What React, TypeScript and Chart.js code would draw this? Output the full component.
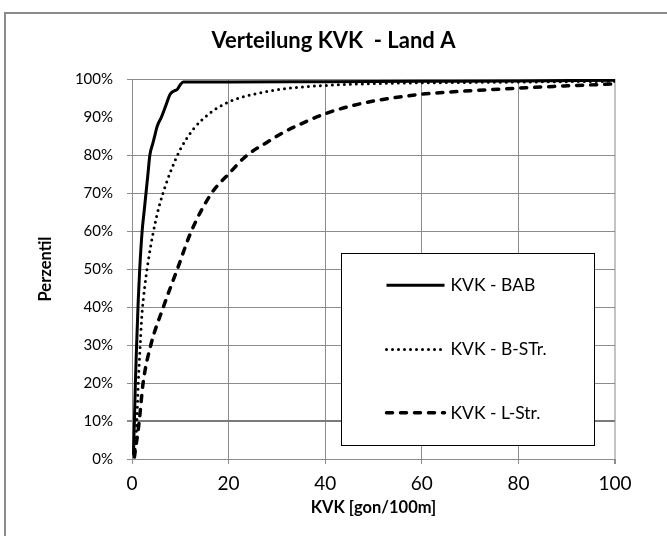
import React, { useEffect, useRef } from "react";
import { Chart, registerables } from "chart.js";

Chart.register(...registerables);

// Cumulative distribution of KVK per road class (x: KVK in gon/100m, y: percentile in %)
const babKvk = [0.3, 0.5, 0.7, 0.9, 1.1, 1.3, 1.6, 2.1, 2.5, 2.9, 3.3, 3.7, 4.3, 4.8, 5.2, 6.1, 7.0, 7.9, 8.6, 9.4, 10.0, 10.6, 20, 40, 60, 80, 100];
const babPerc = [1, 10, 20, 28, 35, 42, 50, 60, 65, 70, 75, 80, 83, 85.5, 87.5, 90, 93, 96, 96.8, 97.3, 98.5, 99.2, 99.2, 99.3, 99.4, 99.5, 99.7];

const bStrKvk = [0.5, 0.8, 1.0, 1.3, 1.7, 2.0, 2.7, 3.6, 4.3, 5.0, 5.6, 6.3, 7.5, 8.9, 10.3, 12.7, 16.1, 19.6, 23, 27.9, 32, 40, 50, 60, 70, 80, 90, 100];
const bStrPerc = [1, 5, 10, 20, 30, 37, 46, 54, 59, 63.3, 66.4, 69.5, 74, 78.5, 82.2, 86.8, 91.0, 93.7, 95.3, 96.7, 97.5, 98.3, 98.8, 99.0, 99.1, 99.2, 99.3, 99.4];

const lStrKvk = [0.5, 0.7, 1.0, 1.5, 2.3, 3.9, 6.5, 9.4, 12.3, 16.5, 20, 23.7, 27.9, 31.3, 35, 40.3, 45, 50, 55, 60, 70, 80, 90, 100];
const lStrPerc = [0.5, 2.4, 5, 10, 20, 30, 40, 50, 60, 70, 75, 79.8, 83.3, 85.9, 88.2, 91.0, 92.8, 94.2, 95.2, 96.0, 96.9, 97.6, 98.2, 98.7];

const seriesLabels = ["KVK - BAB", "KVK - B-STr.", "KVK - L-Str."];
const chartTitle = "Verteilung KVK  - Land A";

const FONT = "Lato, 'Open Sans', sans-serif";
const GRID = "#8c8c8c";

const zip = (xs: number[], ys: number[]) => xs.map((x, i) => ({ x, y: ys[i] }));

// Centered chart title across the full canvas width
const canvasTitle = {
  id: "canvasTitle",
  afterDraw(chart: any) {
    const { ctx, width } = chart;
    ctx.save();
    ctx.fillStyle = "#000000";
    ctx.font = `bold 22px ${FONT}`;
    ctx.textAlign = "center";
    ctx.textBaseline = "middle";
    ctx.fillText(chartTitle, width / 2, 41);
    ctx.restore();
  },
};

// Boxed legend drawn inside the plot area
const boxLegend = {
  id: "boxLegend",
  afterDatasetsDraw(chart: any) {
    const { ctx, scales } = chart;
    const xs = scales.x;
    const ys = scales.y;
    const left = Math.round(xs.getPixelForValue(43.3)) + 0.5;
    const right = Math.round(xs.getPixelForValue(95.6)) + 0.5;
    const top = Math.round(ys.getPixelForValue(54.2)) + 0.5;
    const bottom = Math.round(ys.getPixelForValue(3.7)) + 0.5;
    ctx.save();
    ctx.fillStyle = "#ffffff";
    ctx.fillRect(left, top, right - left, bottom - top);
    ctx.strokeStyle = "#000000";
    ctx.lineWidth = 1;
    ctx.strokeRect(left, top, right - left, bottom - top);
    const h = bottom - top;
    const rows = [0.165, 0.5, 0.83];
    chart.data.datasets.forEach((ds: any, i: number) => {
      const cy = top + h * rows[i];
      const x0 = left + 45;
      const x1 = left + 103;
      ctx.beginPath();
      ctx.setLineDash(ds.legendDash || []);
      ctx.lineCap = ds.borderCapStyle || "butt";
      ctx.lineWidth = ds.borderWidth;
      ctx.strokeStyle = ds.borderColor;
      ctx.moveTo(x0, cy);
      ctx.lineTo(x1, cy);
      ctx.stroke();
      ctx.setLineDash([]);
      ctx.fillStyle = "#000000";
      ctx.font = `17.5px ${FONT}`;
      ctx.textBaseline = "middle";
      ctx.textAlign = "left";
      ctx.fillText(ds.label, x1 + 6, cy);
    });
    ctx.restore();
  },
};

export default function App() {
  const canvasRef = useRef<HTMLCanvasElement | null>(null);

  useEffect(() => {
    if (!canvasRef.current) return;
    const chart = new Chart(canvasRef.current, {
      type: "line",
      data: {
        datasets: [
          {
            label: seriesLabels[0],
            data: zip(babKvk, babPerc),
            borderColor: "#000000",
            borderWidth: 3,
            pointRadius: 0,
            cubicInterpolationMode: "monotone",
            legendDash: [],
          } as any,
          {
            label: seriesLabels[1],
            data: zip(bStrKvk, bStrPerc),
            borderColor: "#000000",
            borderWidth: 3,
            borderDash: [0, 6],
            borderCapStyle: "round",
            pointRadius: 0,
            cubicInterpolationMode: "monotone",
            legendDash: [0, 6],
          } as any,
          {
            label: seriesLabels[2],
            data: zip(lStrKvk, lStrPerc),
            borderColor: "#000000",
            borderWidth: 3.5,
            borderDash: [6, 8],
            borderCapStyle: "round",
            pointRadius: 0,
            cubicInterpolationMode: "monotone",
            legendDash: [6, 8],
          } as any,
        ],
      },
      options: {
        animation: false,
        responsive: false,
        devicePixelRatio: 1,
        layout: { padding: { top: 79, left: 0, right: 52, bottom: 0 } },
        plugins: {
          legend: { display: false },
          tooltip: { enabled: false },
          title: { display: false },
        },
        scales: {
          x: {
            type: "linear",
            min: 0,
            max: 100,
            ticks: {
              stepSize: 20,
              color: "#000000",
              padding: 8,
              font: { family: FONT, size: 19 },
            },
            grid: {
              color: (c: any) => (c.tick && c.tick.value === 100 ? "#c4c4c4" : GRID),
              lineWidth: (c: any) => (c.tick && c.tick.value === 100 ? 2 : 1),
              tickColor: GRID,
              tickLength: 5,
            },
            border: { color: GRID, width: 1 },
            title: {
              display: true,
              text: "KVK [gon/100m]",
              color: "#000000",
              font: { family: FONT, size: 16.5, weight: "bold", lineHeight: 1.2 },
              padding: { top: 0, bottom: 18 },
            },
            afterFit: (s: any) => {
              s.height = 77;
            },
          },
          y: {
            type: "linear",
            min: 0,
            max: 100,
            ticks: {
              stepSize: 10,
              color: "#000000",
              padding: 14,
              font: { family: FONT, size: 15 },
              callback: (v: any) => `${v}%`,
            },
            grid: {
              color: (c: any) => {
                const v = c.tick ? c.tick.value : -1;
                if (v === 90) return "rgba(0,0,0,0)";
                if (v === 10) return "#7a7a7a";
                return GRID;
              },
              lineWidth: (c: any) => (c.tick && c.tick.value === 10 ? 2 : 1),
              tickColor: (c: any) => (c.tick && c.tick.value === 90 ? "rgba(0,0,0,0)" : GRID),
              tickLength: 5,
            },
            border: { color: GRID, width: 1 },
            title: {
              display: true,
              text: "Perzentil",
              color: "#000000",
              font: { family: FONT, size: 16.5, weight: "bold", lineHeight: 1.2 },
              padding: { top: 36, bottom: 0 },
            },
            afterFit: (s: any) => {
              s.width = 132;
            },
          },
        },
      },
      plugins: [boxLegend, canvasTitle],
    } as any);
    return () => chart.destroy();
  }, []);

  return (
    <div
      style={{
        position: "absolute",
        left: 0,
        top: 0,
        width: 667,
        height: 536,
        overflow: "hidden",
        background: "#ffffff",
      }}
    >
      <div
        style={{
          position: "absolute",
          left: 4,
          top: 12,
          width: 700,
          height: 600,
          borderTop: "2px solid #8a8a8a",
          borderLeft: "2px solid #8a8a8a",
        }}
      />
      <canvas
        ref={canvasRef}
        width={667}
        height={536}
        style={{ position: "absolute", left: 0, top: 0, width: 667, height: 536 }}
      />
    </div>
  );
}
